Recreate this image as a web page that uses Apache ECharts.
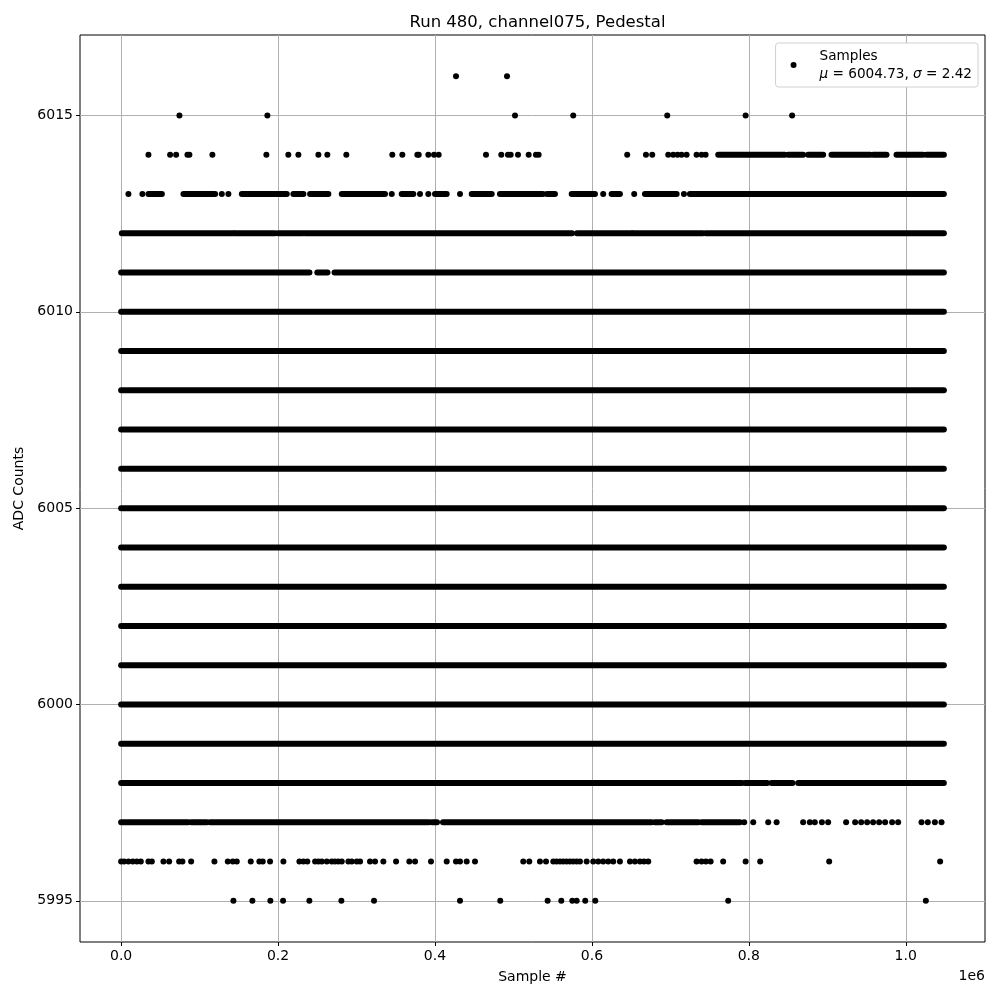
<!DOCTYPE html>
<html>
<head>
<meta charset="utf-8">
<script src="https://cdn.jsdelivr.net/npm/echarts@6/dist/echarts.min.js"></script>
<style>html,body{margin:0;padding:0;background:#fff}#c{width:1000px;height:1000px}</style>
</head>
<body>
<div id="c"></div>
<script>
// ---- data (sample #, ADC level) ----
const xTicks = [0, 200000, 400000, 600000, 800000, 1000000];
const yTicks = [5995, 6000, 6005, 6010, 6015];
const FULL = [[0, 1048575]];

const pts6016 = [426800, 491800];
const pts6015 = [74300, 186400, 502000, 576200, 696000, 795900, 855200];
const pts6014 = [34800, 62400, 70100, 84500, 87000, 116300, 185100, 213100, 225900, 251400, 262800, 287000, 345600, 358400, 377500, 379300, 391500, 398800, 404700, 465000, 484500, 493000, 496500, 505800, 519400, 528700, 532100, 645000, 668900, 676900, 697300, 703600, 709200, 714300, 720700, 733400, 739800, 744900];
const runs6014 = [[761000, 845900], [850100, 869200], [875600, 894700], [905400, 954600], [958400, 975500], [988200, 1022100], [1026400, 1048575]];
const pts6013 = [9300, 27100, 128300, 136700, 344900, 380900, 391500, 431900, 614400, 653900, 717300];
const runs6013 = [[34800, 51900], [79400, 119800], [153800, 211100], [219500, 232300], [240800, 264100], [281200, 336300], [357600, 372400], [400000, 414900], [446800, 472300], [482800, 537600], [542700, 552900], [574200, 603900], [625100, 635700], [667600, 708000], [724900, 1048575]];
const runs6012 = [[900, 143100], [145200, 196200], [200000, 231900], [234400, 574600], [580900, 650600], [652300, 741400], [745200, 1048575]];
const runs6011 = [[0, 240000], [250000, 263000], [272000, 1048575]];
const runs5998 = [[0, 790800], [795000, 823400], [829000, 855700], [862900, 1048575]];
const runs5997 = [[0, 85400], [89200, 109200], [113400, 392400], [396200, 402600], [410200, 676100], [680300, 688900], [695200, 735500], [739800, 788600]];
const pts5997 = [794100, 805600, 824700, 835400, 869200, 877700, 884100, 893100, 901100, 924000, 935500, 943200, 950800, 958400, 966100, 973700, 982600, 990300, 1020100, 1028100, 1037100, 1045600];
const pts5996 = [0, 3800, 9300, 14900, 20000, 25100, 34800, 39100, 53900, 61200, 73900, 78100, 89200, 118900, 135900, 142300, 147400, 165200, 176200, 180500, 189800, 206800, 227200, 232300, 237300, 247200, 251400, 255700, 262100, 268400, 272600, 276800, 281200, 289600, 293900, 300300, 304500, 317200, 323600, 334200, 350400, 367300, 374600, 394900, 414900, 426800, 431900, 440400, 451000, 512500, 520200, 533800, 541500, 550800, 555000, 559300, 563500, 567800, 572000, 576200, 580600, 584800, 593300, 601700, 608100, 614400, 620800, 627200, 635700, 648500, 654800, 661200, 666300, 671800, 733400, 739800, 745300, 751300, 767300, 795900, 814500, 902400, 1043800];
const pts5995 = [143100, 167300, 190200, 206400, 239900, 280700, 322300, 431900, 483200, 543600, 561000, 575000, 580600, 591500, 604300, 773700, 1025600];

// level -> [isolated points, runs of consecutive samples]
const rows = [
  [6016, pts6016, []],
  [6015, pts6015, []],
  [6014, pts6014, runs6014],
  [6013, pts6013, runs6013],
  [6012, [], runs6012],
  [6011, [], runs6011],
  [6010, [], FULL], [6009, [], FULL], [6008, [], FULL], [6007, [], FULL],
  [6006, [], FULL], [6005, [], FULL], [6004, [], FULL], [6003, [], FULL],
  [6002, [], FULL], [6001, [], FULL], [6000, [], FULL], [5999, [], FULL],
  [5998, [], runs5998],
  [5997, pts5997, runs5997],
  [5996, pts5996, []],
  [5995, pts5995, []]
];

const data = [];
rows.forEach(([lvl, pts, runs]) => {
  pts.forEach(p => data.push([p, p, lvl]));
  runs.forEach(r => data.push([r[0], r[1], lvl]));
});

const FONT = 'DejaVu Sans';
const chart = echarts.init(document.getElementById('c'), null, {renderer: 'canvas'});
chart.setOption({
  animation: false,
  backgroundColor: '#fff',
  title: {
    text: 'Run 480, channel075, Pedestal',
    left: 532.5, textAlign: 'center', top: 9,
    textStyle: {fontFamily: FONT, fontSize: 16.5, fontWeight: 'normal', color: '#000'}
  },
  legend: {
    right: 22, top: 43,
    data: [{name: 'Samples', icon: 'circle'}],
    itemWidth: 30, itemHeight: 6,
    padding: [4, 6, 4, 15],
    backgroundColor: '#fff', borderColor: '#d0d0d0', borderWidth: 1, borderRadius: 3,
    formatter: () => 'Samples\n{i|μ} = 6004.73, {i|σ} = 2.42',
    textStyle: {
      fontFamily: FONT, fontSize: 13.6, color: '#000', lineHeight: 18, padding: [0, 0, 0, 6],
      rich: {i: {fontFamily: FONT, fontSize: 13.6, fontStyle: 'italic', color: '#000', lineHeight: 18}}
    }
  },
  grid: {left: 80, right: 15, top: 35, bottom: 58, show: true, borderColor: '#000', borderWidth: 1, backgroundColor: 'transparent'},
  xAxis: {
    type: 'value', min: -52429, max: 1101004,
    name: 'Sample #', nameLocation: 'middle', nameGap: 28,
    nameTextStyle: {fontFamily: FONT, fontSize: 14, color: '#000'},
    axisLine: {show: false, onZero: false},
    axisTick: {show: true, length: 4, inside: false, customValues: xTicks, lineStyle: {color: '#000'}},
    axisLabel: {customValues: xTicks, margin: 7, fontFamily: FONT, fontSize: 14, color: '#000',
      formatter: v => (v / 1e6).toFixed(1)},
    splitLine: {show: true, lineStyle: {color: '#b0b0b0', width: 1}}
  },
  yAxis: {
    type: 'value', min: 5993.95, max: 6017.05,
    name: 'ADC Counts', nameLocation: 'middle', nameGap: 53, nameRotate: 90,
    nameTextStyle: {fontFamily: FONT, fontSize: 14, color: '#000'},
    axisLine: {show: false, onZero: false},
    axisTick: {show: true, length: 4, inside: false, customValues: yTicks, lineStyle: {color: '#000'}},
    axisLabel: {customValues: yTicks, margin: 7, fontFamily: FONT, fontSize: 14, color: '#000',
      formatter: v => String(Math.round(v))},
    splitLine: {show: true, lineStyle: {color: '#b0b0b0', width: 1}}
  },
  graphic: [{
    type: 'text', right: 15, top: 969,
    style: {text: '1e6', font: '14px "DejaVu Sans"', fill: '#000'}
  }],
  series: [{
    type: 'custom', name: 'Samples',
    coordinateSystem: 'cartesian2d',
    itemStyle: {color: '#000'},
    encode: {x: [0, 1], y: 2},
    clip: true,
    data: data,
    renderItem: function (params, api) {
      const y = api.value(2);
      const a = api.coord([api.value(0), y]);
      const b = api.coord([api.value(1), y]);
      const r = 3;
      return {
        type: 'rect',
        shape: {x: a[0] - r, y: a[1] - r, width: b[0] - a[0] + 2 * r, height: 2 * r, r: r},
        style: {fill: '#000'}
      };
    }
  }]
});
</script>
</body>
</html>
